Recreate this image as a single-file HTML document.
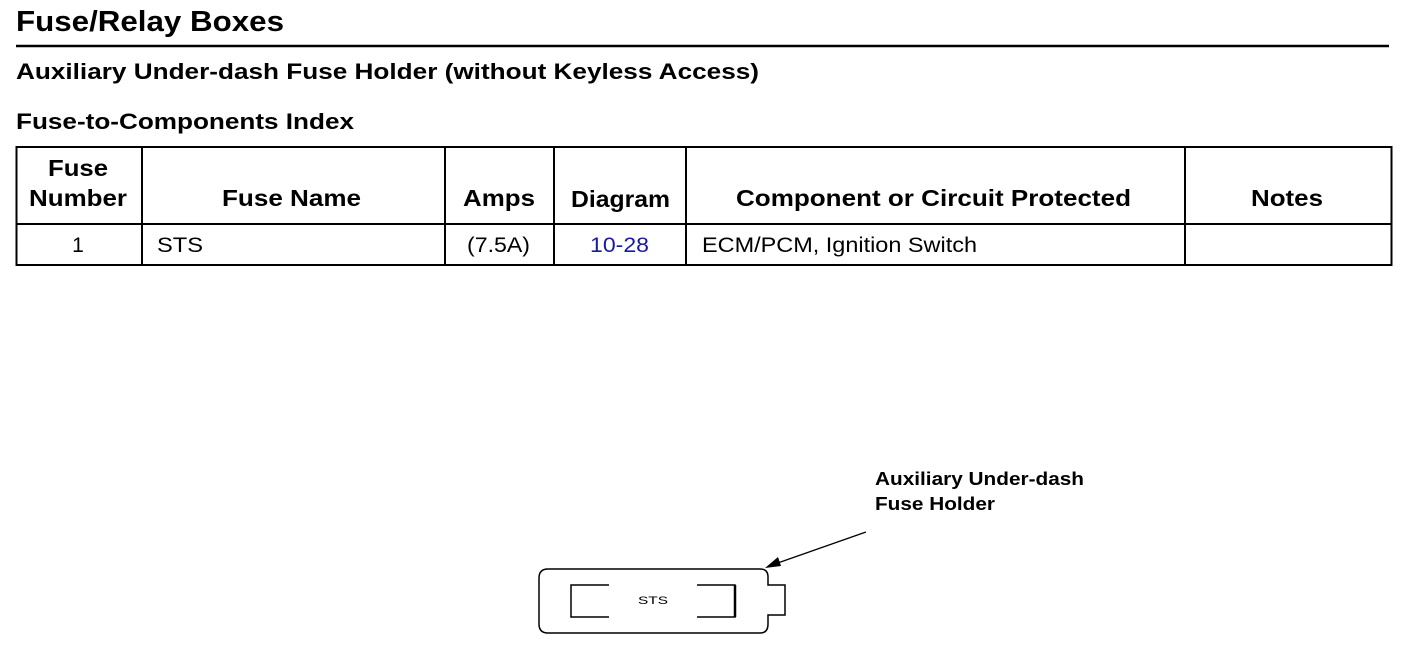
<!DOCTYPE html>
<html><head><meta charset="utf-8"><style>
body{margin:0;width:1406px;height:646px;background:#fff;overflow:hidden;font-family:"Liberation Sans",Arial,sans-serif;}
svg text{font-family:"Liberation Sans",Arial,sans-serif;}
</style></head><body>
<svg width="1406" height="646" viewBox="0 0 1406 646" xmlns="http://www.w3.org/2000/svg">
<text x="16" y="31" font-size="29" font-weight="bold" textLength="268" lengthAdjust="spacingAndGlyphs">Fuse/Relay Boxes</text>
<line x1="16" y1="46" x2="1389" y2="46" stroke="#000" stroke-width="2.5"/>
<text x="16" y="79" font-size="22" font-weight="bold" textLength="743" lengthAdjust="spacingAndGlyphs">Auxiliary Under-dash Fuse Holder (without Keyless Access)</text>
<text x="16" y="129" font-size="22" font-weight="bold" textLength="338" lengthAdjust="spacingAndGlyphs">Fuse-to-Components Index</text>
<g stroke="#000" stroke-width="2" fill="none">
<rect x="16.5" y="147" width="1375" height="118"/>
<line x1="16" y1="224" x2="1392" y2="224"/>
<line x1="142" y1="147" x2="142" y2="265"/>
<line x1="445" y1="147" x2="445" y2="265"/>
<line x1="554" y1="147" x2="554" y2="265"/>
<line x1="686" y1="147" x2="686" y2="265"/>
<line x1="1185" y1="147" x2="1185" y2="265"/>
</g>
<g font-size="23" font-weight="bold" lengthAdjust="spacingAndGlyphs">
<text x="48" y="176" textLength="60" lengthAdjust="spacingAndGlyphs">Fuse</text>
<text x="29" y="206" textLength="98" lengthAdjust="spacingAndGlyphs">Number</text>
<text x="222" y="206" textLength="139" lengthAdjust="spacingAndGlyphs">Fuse Name</text>
<text x="463" y="206" textLength="72" lengthAdjust="spacingAndGlyphs">Amps</text>
<text x="571" y="207" textLength="99" lengthAdjust="spacingAndGlyphs">Diagram</text>
<text x="736" y="206" textLength="395" lengthAdjust="spacingAndGlyphs">Component or Circuit Protected</text>
<text x="1251" y="206" textLength="72" lengthAdjust="spacingAndGlyphs">Notes</text>
</g>
<g font-size="21">
<text x="78" y="252" text-anchor="middle">1</text>
<text x="157" y="252" textLength="46" lengthAdjust="spacingAndGlyphs">STS</text>
<text x="467" y="252" textLength="63" lengthAdjust="spacingAndGlyphs">(7.5A)</text>
<text x="590" y="252" fill="#1a1aa0" textLength="59" lengthAdjust="spacingAndGlyphs">10-28</text>
<text x="702" y="252" textLength="275" lengthAdjust="spacingAndGlyphs">ECM/PCM, Ignition Switch</text>
</g>
<text x="875" y="485" font-size="18" font-weight="bold" textLength="209" lengthAdjust="spacingAndGlyphs">Auxiliary Under-dash</text>
<text x="875" y="510" font-size="18" font-weight="bold" textLength="120" lengthAdjust="spacingAndGlyphs">Fuse Holder</text>
<line x1="866" y1="532" x2="772" y2="565" stroke="#000" stroke-width="1.3"/>
<polygon points="765,568 778,557 781,566" fill="#000"/>
<g stroke="#000" stroke-width="1.5" fill="none">
<path d="M548,569 H760 Q768,569 768,577 V585 H785 V615 H768 V624 Q768,633 760,633 H548 Q539,633 539,624 V578 Q539,569 548,569 Z"/>
<path d="M609,585 H571 V617 H609"/>
<path d="M697,585 H735 V617 H697"/>
</g>
<line x1="735" y1="585" x2="735" y2="617" stroke="#000" stroke-width="2.5"/>
<text x="638" y="604" font-size="11" textLength="30" lengthAdjust="spacingAndGlyphs">STS</text>
</svg>
</body></html>
